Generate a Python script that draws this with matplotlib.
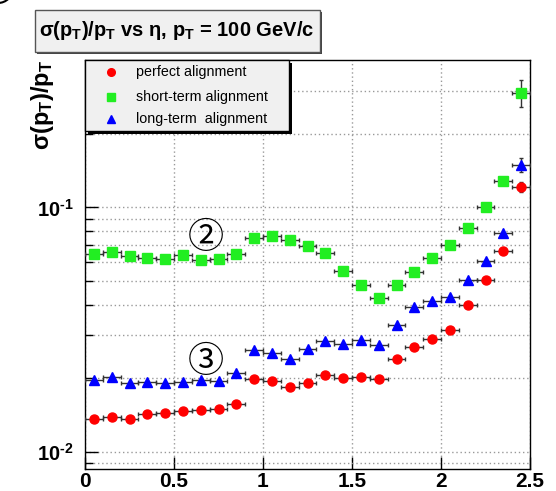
import matplotlib
matplotlib.use("Agg")
import matplotlib.pyplot as plt
import numpy as np
from matplotlib.lines import Line2D
from matplotlib.patches import Ellipse, Rectangle
from matplotlib.ticker import FixedLocator, FuncFormatter, NullFormatter

plt.rcParams.update({
    "font.family": "Liberation Sans",
    "mathtext.fontset": "custom",
    "mathtext.rm": "Liberation Sans:bold",
    "mathtext.bf": "Liberation Sans:bold",
    "mathtext.it": "Liberation Sans:bold",
})

# bin centres in eta
eta = [0.05, 0.15, 0.25, 0.35, 0.45, 0.55, 0.65, 0.75, 0.85, 0.95,
       1.05, 1.15, 1.25, 1.35, 1.45, 1.55, 1.65, 1.75, 1.85, 1.95,
       2.05, 2.15, 2.25, 2.35, 2.45]
eta_half_width = [0.05] * 25

perfect = [0.0136, 0.0139, 0.0137, 0.0143, 0.0145, 0.0147, 0.0148, 0.0150, 0.0157, 0.0199,
           0.0195, 0.0184, 0.0192, 0.0206, 0.0200, 0.0202, 0.0199, 0.0239, 0.0268, 0.0289,
           0.0316, 0.0398, 0.0504, 0.0661, 0.121]
short_term = [0.0643, 0.0660, 0.0633, 0.0621, 0.0618, 0.0637, 0.0612, 0.0618, 0.0643, 0.0752,
              0.0764, 0.0734, 0.0697, 0.0653, 0.0549, 0.0482, 0.0426, 0.0482, 0.0545, 0.0619,
              0.0704, 0.0821, 0.1003, 0.128, 0.294]
long_term = [0.0197, 0.0202, 0.0191, 0.0194, 0.0191, 0.0193, 0.0197, 0.0195, 0.0211, 0.0261,
             0.0255, 0.0240, 0.0265, 0.0284, 0.0277, 0.0286, 0.0274, 0.0332, 0.0390, 0.0415,
             0.0430, 0.0507, 0.0606, 0.0788, 0.149]
# vertical errors are only visible in the last bin
perfect_err = [0.0] * 24 + [0.006]
short_err = [0.0] * 24 + [0.036]
long_err = [0.0] * 24 + [0.010]

labels = ["perfect alignment", "short-term alignment", "long-term  alignment"]

W, H = 556, 491


def px(x, y):
    # pixel position from the top-left corner -> figure fraction
    return x / W, 1 - y / H


fig = plt.figure(figsize=(W / 100, H / 100), dpi=100)
ax = fig.add_axes([85 / W, 1 - 469 / H, 445 / W, 409 / H])

ecol = "#333333"
styles = [("o", "red"), ("s", "#22ee22"), ("^", "blue")]
for vals, err, (mk, col), lab in zip([perfect, short_term, long_term],
                                     [perfect_err, short_err, long_err], styles, labels):
    ax.errorbar(eta, vals, xerr=eta_half_width, yerr=err, fmt=mk, color=col, ms=6.5,
                ecolor=ecol, elinewidth=1, capsize=1.5, label=lab, zorder=3)

ax.set_yscale("log")
ax.set_xlim(0, 2.5)
ax.set_ylim(0.00853, 0.4)

ax.xaxis.set_major_locator(FixedLocator([0, 0.5, 1, 1.5, 2, 2.5]))
ax.xaxis.set_major_formatter(FuncFormatter(lambda v, p: "%g" % v))
ax.yaxis.set_major_locator(FixedLocator([0.01, 0.1]))
ax.yaxis.set_major_formatter(
    FuncFormatter(lambda v, p: r"$\mathbf{10^{\text{-}%d}}$" % abs(round(np.log10(v)))))
ax.yaxis.set_minor_locator(FixedLocator([0.009, 0.02, 0.03, 0.04, 0.05, 0.06, 0.07, 0.08, 0.09, 0.2, 0.3]))
ax.yaxis.set_minor_formatter(NullFormatter())

ax.tick_params(axis="both", which="major", direction="in", length=9, width=1)
ax.tick_params(axis="x", labelsize=15, pad=2)
ax.tick_params(axis="y", labelsize=14.5, pad=8)
ax.tick_params(axis="y", which="minor", direction="in", length=6, width=1)
for lab in ax.get_xticklabels():
    lab.set_fontweight("bold")

ax.grid(True, which="both", axis="y", color="#999999", linestyle=(0, (1, 2)), linewidth=1)
ax.grid(True, which="major", axis="x", color="#999999", linestyle=(0, (1, 2)), linewidth=1)
for s in ax.spines.values():
    s.set_linewidth(1)

# legend box drawn ROOT-style with a hard shadow
x0, y0 = px(88, 63)
x1, y1 = px(292, 134)
fig.add_artist(Rectangle((x0, y1), x1 - x0, y0 - y1, transform=fig.transFigure,
                         facecolor="black", edgecolor="none", zorder=5))
x0, y0 = px(85, 60)
x1, y1 = px(289, 131)
fig.add_artist(Rectangle((x0, y1), x1 - x0, y0 - y1, transform=fig.transFigure,
                         facecolor="#f0f0f0", edgecolor="black", linewidth=1, zorder=6))
for (mk, col), lab, ry in zip(styles, labels, [72, 97, 119]):
    mx, my = px(111, ry)
    fig.add_artist(Line2D([mx], [my], marker=mk, color=col, markersize=5.5, linestyle="none",
                          transform=fig.transFigure, zorder=7))
    tx, ty = px(136, ry)
    fig.text(tx, ty, lab, ha="left", va="center", fontsize=10.3, zorder=7)

fig.text(*px(42, 60), r"$\sigma(p_T)/p_T$", rotation=90, ha="center", va="top", fontsize=17)

# title box
x0, y0 = px(37, 12)
x1, y1 = px(322, 54)
fig.add_artist(Rectangle((x0, y1), x1 - x0, y0 - y1, transform=fig.transFigure,
                         facecolor="#444444", edgecolor="none", zorder=5))
x0, y0 = px(35, 10)
x1, y1 = px(320, 52)
fig.add_artist(Rectangle((x0, y1), x1 - x0, y0 - y1, transform=fig.transFigure,
                         facecolor="#f0f0f0", edgecolor="#555555", linewidth=1, zorder=6))
fig.text(*px(177, 31), r"σ(p$_\mathrm{T}$)/p$_\mathrm{T}$ vs η, p$_\mathrm{T}$ = 100 GeV/c",
         ha="center", va="center", fontsize=14.5, fontweight="bold", zorder=7)

circ_font = ["Noto Sans CJK JP", "DejaVu Sans"]
fig.text(*px(206, 238), "②", ha="center", va="center", fontsize=26, family=circ_font)
fig.text(*px(206, 362), "③", ha="center", va="center", fontsize=26, family=circ_font)

fig.add_artist(Ellipse(px(-2, -12), 30 / W, 30 / H, fill=False, edgecolor="black",
                       linewidth=1.5, transform=fig.transFigure, clip_on=False))

fig.savefig("out.png", dpi=100)
